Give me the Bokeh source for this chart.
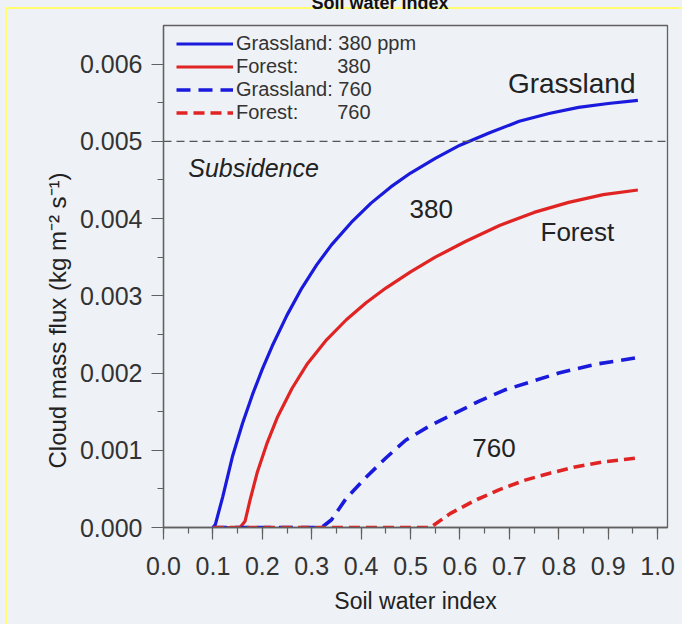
from bokeh.plotting import figure
from bokeh.models import (Legend, LegendItem, Span, Label, Title,
                          SingleIntervalTicker, NumeralTickFormatter, Range1d)
from bokeh.embed import file_html
from bokeh.resources import INLINE

# Soil water index vs. cloud mass flux, two CO2 levels, two land covers
grass_380_x = [0.10, 0.105, 0.12, 0.14, 0.16, 0.18, 0.20, 0.22, 0.25, 0.28, 0.31, 0.34, 0.38, 0.42, 0.46, 0.50, 0.55, 0.60, 0.66, 0.72, 0.78, 0.84, 0.90, 0.96]
grass_380_y = [0.0, 0.00004, 0.0004, 0.00093, 0.00135, 0.00172, 0.00205, 0.00235, 0.00275, 0.0031, 0.0034, 0.00366, 0.00395, 0.0042, 0.00441, 0.00459, 0.00478, 0.00495, 0.00511, 0.00526, 0.00536, 0.00544, 0.00549, 0.00553]

forest_380_x = [0.10, 0.155, 0.165, 0.175, 0.19, 0.21, 0.23, 0.26, 0.29, 0.33, 0.37, 0.41, 0.45, 0.50, 0.55, 0.61, 0.68, 0.75, 0.82, 0.89, 0.96]
forest_380_y = [0.0, 0.0, 0.00008, 0.00035, 0.00072, 0.0011, 0.00142, 0.0018, 0.00211, 0.00243, 0.00269, 0.00291, 0.0031, 0.00331, 0.0035, 0.0037, 0.00391, 0.00408, 0.00421, 0.00431, 0.00437]

grass_760_x = [0.10, 0.32, 0.34, 0.37, 0.41, 0.45, 0.49, 0.54, 0.59, 0.64, 0.69, 0.75, 0.80, 0.88, 0.96]
grass_760_y = [0.0, 0.0, 0.0001, 0.00038, 0.00065, 0.0009, 0.00113, 0.00132, 0.00148, 0.00164, 0.00178, 0.0019, 0.002, 0.00212, 0.0022]

forest_760_x = [0.10, 0.54, 0.58, 0.63, 0.68, 0.73, 0.78, 0.83, 0.89, 0.96]
forest_760_y = [0.0, 0.0, 0.00018, 0.00035, 0.00049, 0.00061, 0.0007, 0.00078, 0.00085, 0.0009]

subsidence_level = 0.005

BG = "#eef1f5"
RULE = "#ffff70"
FONT = "Liberation Sans"
BLUE = "#1a1adc"
RED = "#e02424"
AXIS = "#606060"

# the canvas starts above the page top so the heading shows only its lower edge
LIFT = 24
p = figure(width=682, height=624 + LIFT, output_backend="svg", toolbar_location=None,
           x_range=Range1d(0, 1.02), y_range=Range1d(0, 0.0065),
           min_border_left=163, min_border_right=15, min_border_top=25 + LIFT, min_border_bottom=97,
           background_fill_color=BG, border_fill_alpha=0)
# page background with a thin yellow rule along the top and left edges
p.styles = {
    "margin-top": f"-{LIFT}px",
    "background": (f"linear-gradient({RULE},{RULE}) 5px {7 + LIFT}px / 2px 100% no-repeat, "
                   f"linear-gradient({RULE},{RULE}) 5px {7 + LIFT}px / 100% 2px no-repeat, {BG}"),
}
p.grid.visible = False
p.outline_line_color = AXIS
p.outline_line_width = 1.3

HAS_STANDOFF = "standoff" in Title.properties()

# heading (mostly beyond the top edge)
heading = Title(text="Soil water index", align="left", offset=148,
                text_font=FONT, text_font_size="18px", text_font_style="bold",
                text_color="#111111")
if HAS_STANDOFF:
    heading.standoff = 25
p.add_layout(heading, "above")

# axes
p.xaxis.ticker = SingleIntervalTicker(interval=0.1, num_minor_ticks=2)
p.yaxis.ticker = SingleIntervalTicker(interval=0.001, num_minor_ticks=2)
p.xaxis.formatter = NumeralTickFormatter(format="0.0")
p.yaxis.formatter = NumeralTickFormatter(format="0.000")
for ax in (p.xaxis, p.yaxis):
    ax.axis_line_color = AXIS
    ax.axis_line_width = 1.3
    ax.major_tick_line_color = AXIS
    ax.minor_tick_line_color = AXIS
    ax.major_tick_line_width = 1.2
    ax.minor_tick_line_width = 1.2
    ax.major_tick_out = 12
    ax.major_tick_in = 0
    ax.minor_tick_out = 6
    ax.minor_tick_in = 0
    ax.major_label_text_font = FONT
    ax.major_label_text_font_size = "25px"
    ax.major_label_text_color = "#333333"
p.xaxis.major_label_standoff = 17
p.yaxis.major_label_standoff = 9
p.xaxis.axis_label = "Soil water index"
p.xaxis.axis_label_text_font = FONT
p.xaxis.axis_label_text_font_size = "23px"
p.xaxis.axis_label_text_font_style = "normal"
p.xaxis.axis_label_text_color = "#222222"
p.xaxis.axis_label_standoff = 10

# y title as a side title so it can sit below the frame centre
ytitle = Title(text="Cloud mass flux (kg m\u207b\u00b2 s\u207b\u00b9)", align="left", offset=59,
               text_font=FONT, text_font_size="24px", text_font_style="normal",
               text_color="#222222")
if HAS_STANDOFF:
    ytitle.standoff = 12
p.add_layout(ytitle, "left")

# subsidence threshold
p.add_layout(Span(location=subsidence_level, dimension="width", line_color="#555555",
                  line_dash="8 5", line_width=1.3))

r1 = p.line(grass_380_x, grass_380_y, line_color=BLUE, line_width=3.2)
r2 = p.line(forest_380_x, forest_380_y, line_color=RED, line_width=3.2)
r3 = p.line(grass_760_x, grass_760_y, line_color=BLUE, line_width=3.6, line_dash="14 8")
r4 = p.line(forest_760_x, forest_760_y, line_color=RED, line_width=3.6, line_dash="11 6")

legend = Legend(items=[
    LegendItem(label="Grassland: 380 ppm", renderers=[r1]),
    LegendItem(label="Forest:\u00a0\u00a0\u00a0\u00a0\u00a0\u00a0\u00a0380", renderers=[r2]),
    LegendItem(label="Grassland: 760", renderers=[r3]),
    LegendItem(label="Forest:\u00a0\u00a0\u00a0\u00a0\u00a0\u00a0\u00a0760", renderers=[r4]),
], location=(12, 402))
legend.padding = 1
legend.spacing = 0
legend.glyph_width = 57
legend.glyph_height = 19
legend.label_height = 19
legend.label_standoff = 3
legend.label_text_font = FONT
legend.label_text_font_size = "20px"
legend.label_text_line_height = 1.0
legend.label_text_color = "#333333"
legend.background_fill_alpha = 0
legend.border_line_alpha = 0
p.add_layout(legend)

def note(x, y, text, style="normal", size="26px"):
    p.add_layout(Label(x=x, y=y, text=text, text_font=FONT, text_font_size=size,
                       text_font_style=style, text_color="#222222",
                       text_align="left", text_baseline="middle"))

note(0.697, 0.00575, "Grassland", size="28px")
note(0.05, 0.00466, "Subsidence", style="italic", size="25px")
note(0.498, 0.00412, "380")
note(0.763, 0.00382, "Forest")
note(0.625, 0.00103, "760")

open("out.html", "w").write(file_html(p, INLINE))
